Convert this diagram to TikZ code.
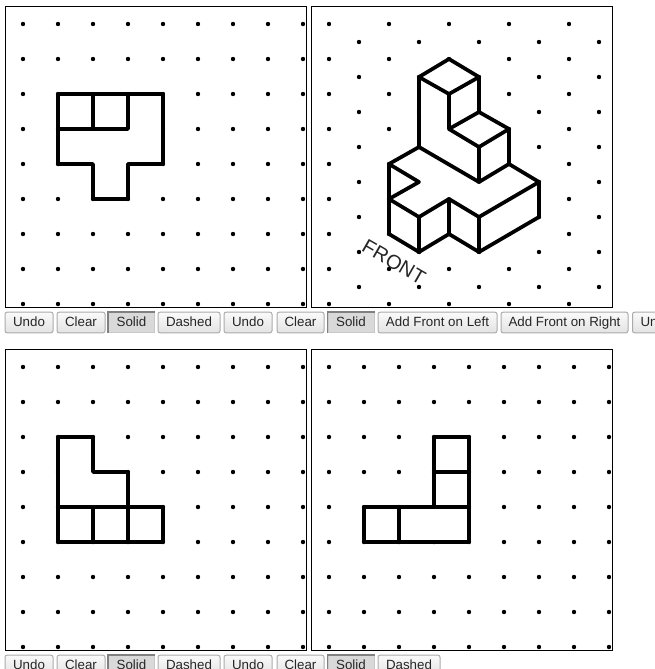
\documentclass[tikz,border=0pt]{standalone}
\usepackage{fontspec}
\setmainfont{Liberation Sans}
\usepackage{tikz}

\begin{document}
\begin{tikzpicture}[x=0.75pt,y=-0.75pt]
\tikzstyle{griddot}=[circle,fill=black,minimum size=3.3pt,inner sep=0pt]
\tikzstyle{wire}=[line width=2.8pt,line join=round,line cap=round]
\tikzstyle{panel}=[draw=black,line width=0.9pt]
\tikzstyle{btn}=[draw=black!33,line width=0.75pt,rounded corners=1.5pt,top color=black!2,bottom color=black!11,minimum height=15.4pt,inner sep=0pt,text height=8.4pt,text depth=2pt,font=\fontsize{10}{12}\selectfont,text=black!85]
\tikzstyle{pressed}=[draw=black!22,line width=0.75pt,fill=black!15,minimum height=15.4pt,inner sep=0pt,text height=8.4pt,text depth=2pt,font=\fontsize{10}{12}\selectfont,text=black!85]
\tikzstyle{pressedge}=[draw=black!50,line width=1.2pt]
\useasboundingbox (0,0) rectangle (655,669);
\clip (0,0) rectangle (655,669);
% dots
\foreach \name/\ox/\oy in {a/23/24,c/23/367,d/329/367}
	\foreach \i in {0,...,8}
		\foreach \j in {0,...,8}
			\node[griddot] (\name\i\j) at (\ox+35*\i,\oy+35*\j) {};
\foreach \i in {0,...,4} {
	\foreach \j in {0,...,8}
		\node[griddot] (be\i\j) at (329+60*\i,24+35*\j) {};
	\foreach \j in {0,...,7}
		\node[griddot] (bo\i\j) at (359+60*\i,42+35*\j) {};
}
% top view
\foreach \name/\point in {
	1/{58,94},
	2/{93,94},
	3/{128,94},
	4/{163,94},
	5/{163,164},
	6/{128,164},
	7/{128,199},
	8/{93,199},
	9/{93,164},
	10/{58,164},
	11/{58,129},
	12/{93,129},
	13/{128,129}}
	\coordinate (a\name) at (\point);
\draw[wire,fill=white] (a1) -- (a4) -- (a5) -- (a6) -- (a7) -- (a8) -- (a9) -- (a10) -- cycle;
\draw[wire] (a11) -- (a13) -- (a3);
\draw[wire] (a2) -- (a12);
% isometric view
\foreach \name/\point in {
	1/{419,77},
	2/{449,59},
	3/{479,77},
	4/{449,94},
	5/{479,112},
	6/{509,129},
	7/{479,147},
	8/{449,129},
	9/{509,164},
	10/{539,182},
	11/{539,217},
	12/{479,252},
	13/{449,234},
	14/{419,252},
	15/{389,234},
	16/{389,199},
	17/{389,164},
	18/{419,147},
	19/{419,182},
	20/{479,182},
	21/{419,217},
	22/{449,199},
	23/{479,217}}
	\coordinate (b\name) at (\point);
\draw[wire,fill=white] (b1) -- (b2) -- (b3) -- (b5) -- (b6) -- (b9) -- (b10) -- (b11) -- (b12) -- (b13) -- (b14) -- (b15) -- (b17) -- (b18) -- cycle;
\draw[wire] (b1) -- (b4) -- (b3);
\draw[wire] (b4) -- (b8) -- (b5);
\draw[wire] (b8) -- (b7) -- (b6);
\draw[wire] (b7) -- (b20);
\draw[wire] (b18) -- (b20) -- (b9);
\draw[wire] (b17) -- (b19) -- (b16);
\draw[wire] (b16) -- (b21) -- (b22) -- (b23) -- (b10);
\draw[wire] (b21) -- (b14);
\draw[wire] (b22) -- (b13);
\draw[wire] (b23) -- (b12);
\node[rotate=-30,font=\fontsize{15}{18}\selectfont,text=black!85,inner sep=0pt] (front) at (394,262) {FRONT};
% front view
\foreach \name/\point in {
	1/{58,437},
	2/{93,437},
	3/{93,472},
	4/{128,472},
	5/{128,507},
	6/{163,507},
	7/{163,542},
	8/{128,542},
	9/{93,542},
	10/{58,542},
	11/{58,507},
	12/{93,507}}
	\coordinate (c\name) at (\point);
\draw[wire,fill=white] (c1) -- (c2) -- (c3) -- (c4) -- (c5) -- (c6) -- (c7) -- (c10) -- cycle;
\draw[wire] (c11) -- (c5);
\draw[wire] (c12) -- (c9);
\draw[wire] (c5) -- (c8);
% side view
\foreach \name/\point in {
	1/{434,437},
	2/{469,437},
	3/{469,472},
	4/{469,507},
	5/{469,542},
	6/{399,542},
	7/{364,542},
	8/{364,507},
	9/{399,507},
	10/{434,507},
	11/{434,472}}
	\coordinate (d\name) at (\point);
\draw[wire,fill=white] (d1) -- (d2) -- (d5) -- (d7) -- (d8) -- (d10) -- cycle;
\draw[wire] (d11) -- (d3);
\draw[wire] (d10) -- (d4);
\draw[wire] (d9) -- (d6);
% frames
\foreach \name/\xa/\ya in {fa/5.5/6.5,fb/311.5/6.5,fc/5.5/349.5,fd/311.5/349.5}
	\node[panel,minimum size=225.75pt,inner sep=0pt] (\name) at (\xa+150.5,\ya+150.5) {};
% buttons
\foreach \name/\xc/\yc/\w/\lab in {
	u1/29/322.5/48/Undo,
	k1/81/322.5/48/Clear,
	e1/189/322.5/62/Dashed,
	u2/248/322.5/48/Undo,
	k2/300.5/322.5/47/Clear,
	l1/437.5/322.5/119/Add Front on Left,
	r1/564.5/322.5/127/Add Front on Right,
	u3/656.5/322.5/48/Undo,
	u4/29/665.5/48/Undo,
	k4/81/665.5/48/Clear,
	e4/189/665.5/62/Dashed,
	u5/248/665.5/48/Undo,
	k5/300.5/665.5/47/Clear,
	e5/409/665.5/62/Dashed}
	\node[btn,minimum width=\w*0.75pt] (\name) at (\xc,\yc) {\lab};
\foreach \name/\xc/\yc in {s1/131.5/322.5,s2/351/322.5,s4/131.5/665.5,s5/351/665.5} {
	\node[pressed,minimum width=34.5pt] (\name) at (\xc,\yc) {Solid};
	\draw[pressedge] (\name.south west) -- (\name.north west) -- (\name.north east);
}
\end{tikzpicture}
\end{document}
